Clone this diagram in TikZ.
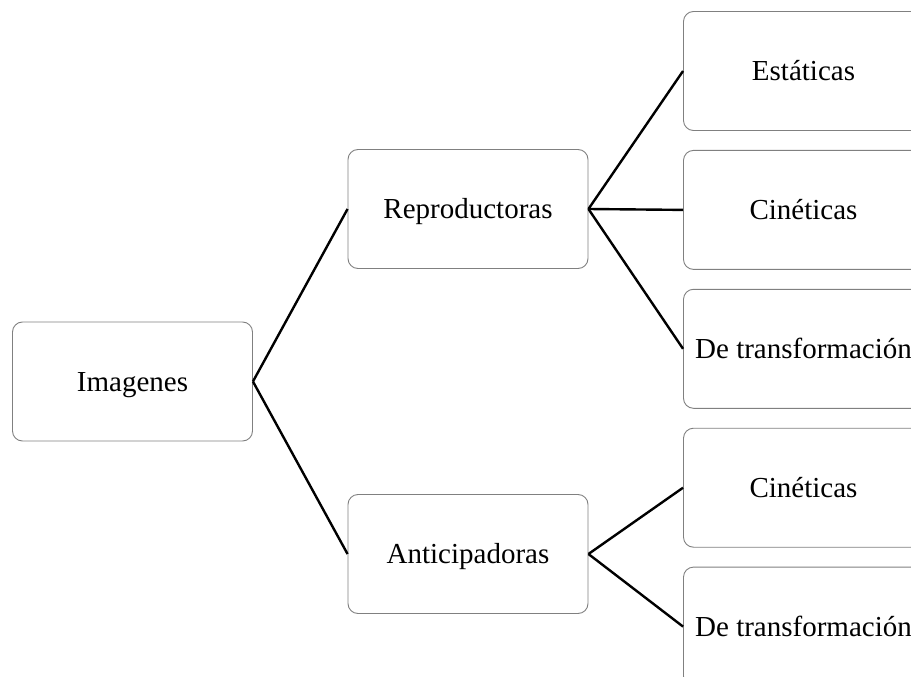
\documentclass[tikz,border=0pt]{standalone}
\usepackage{fontspec}
\setmainfont{Liberation Serif}
\usetikzlibrary{positioning}
\tikzset{>=stealth}
\tikzset{caja/.style={draw=gray,rounded corners=10pt,line width=0.9pt,minimum width=240pt,minimum height=119pt,text height=19pt,text depth=0pt,inner sep=0pt,font=\fontsize{29}{35}\selectfont}}
\tikzset{rama/.style={line width=2.4pt}}

\begin{document}
\begin{tikzpicture}[x=1pt,y=-1pt]
\useasboundingbox (0,0) rectangle (911,677);
\clip (0,0) rectangle (911,677);
\node[caja] (img) at (132.5,381.5) {Imagenes};
\node[caja] (rep) at (468,209) {Reproductoras};
\node[caja] (ant) at (468,554) {Anticipadoras};
\node[caja] (est) at (803.5,71) {Estáticas};
\node[caja,below=19pt of est] (cin1) {Cinéticas};
\node[caja,below=19pt of cin1] (tra1) {De transformación};
\node[caja,below=19pt of tra1] (cin2) {Cinéticas};
\node[caja,below=19pt of cin2] (tra2) {De transformación};
\draw[rama] (img.east) -- (rep.west);
\draw[rama] (img.east) -- (ant.west);
\draw[rama] (rep.east) -- (est.west);
\draw[rama] (rep.east) -- (cin1.west);
\draw[rama] (rep.east) -- (tra1.west);
\draw[rama] (ant.east) -- (cin2.west);
\draw[rama] (ant.east) -- (tra2.west);
\end{tikzpicture}
\end{document}
